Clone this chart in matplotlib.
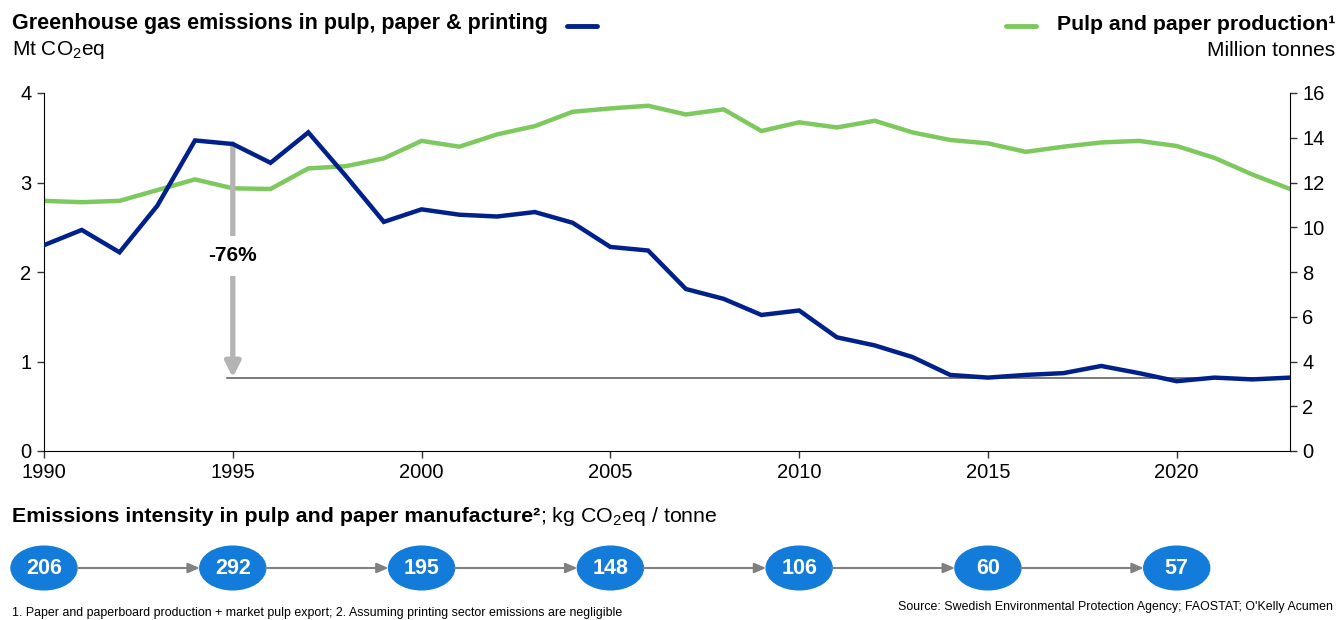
import matplotlib.pyplot as plt
from matplotlib.patches import Ellipse
from matplotlib.lines import Line2D

plt.rcParams["font.family"] = ["Liberation Sans", "DejaVu Sans"]
plt.rcParams["mathtext.fontset"] = "custom"
plt.rcParams["mathtext.rm"] = "Liberation Sans"
plt.rcParams["mathtext.it"] = "Liberation Sans"

years = list(range(1990, 2024))

# Mt CO2eq
emissions = [2.30, 2.47, 2.22, 2.74, 3.47, 3.43, 3.22, 3.56, 3.07, 2.56,
             2.70, 2.64, 2.62, 2.67, 2.55, 2.28, 2.24, 1.81, 1.70, 1.52,
             1.57, 1.27, 1.18, 1.05, 0.85, 0.82, 0.85, 0.87, 0.95, 0.87,
             0.78, 0.82, 0.80, 0.82]

# million tonnes
production = [11.18, 11.12, 11.18, 11.66, 12.14, 11.74, 11.71, 12.63, 12.73, 13.08,
              13.86, 13.60, 14.15, 14.52, 15.16, 15.31, 15.43, 15.04, 15.27, 14.30,
              14.69, 14.46, 14.76, 14.24, 13.90, 13.75, 13.37, 13.60, 13.79, 13.86,
              13.63, 13.10, 12.36, 11.71]

intensity_years = [1990, 1995, 2000, 2005, 2010, 2015, 2020]
intensity = [206, 292, 195, 148, 106, 60, 57]

BLUE = "#00218C"
GREEN = "#7DC95E"
BUBBLE = "#137BD9"

W, H = 1338, 620
fig = plt.figure(figsize=(W / 100, H / 100), dpi=100)

def fx(px):
    return px / W

def fy(py):
    return 1 - py / H

ax = fig.add_axes([fx(44), fy(451), fx(1290) - fx(44), fy(93) - fy(451)])
ax2 = ax.twinx()

ax.plot(years, emissions, color=BLUE, lw=3.2, solid_joinstyle="miter", zorder=3)
ax2.plot(years, production, color=GREEN, lw=3.2, zorder=2)
ax.set_zorder(ax2.get_zorder() + 1)
ax.patch.set_visible(False)

ax.set_xlim(1990, 2023)
ax.set_ylim(0, 4)
ax2.set_ylim(0, 16)
ax.set_xticks(range(1990, 2021, 5))
ax.set_yticks(range(0, 5))
ax2.set_yticks(range(0, 17, 2))

for a in (ax, ax2):
    a.spines["top"].set_visible(False)
    a.tick_params(labelsize=14.5, length=5, width=1, color="#333333", pad=4)
ax.spines["right"].set_visible(False)
ax2.spines["left"].set_visible(False)
ax2.spines["bottom"].set_visible(False)

# -76% drop marker
start, end = emissions[5], emissions[-1]
ax.plot([1994.85, 2023], [end, end], color="#555555", lw=1.1, zorder=1)
ax.annotate("", xy=(1995, end), xytext=(1995, start),
            arrowprops=dict(arrowstyle="-|>,head_width=0.45,head_length=0.9",
                            color="#B4B4B4", lw=3.8, shrinkA=0, shrinkB=0),
            zorder=2)
pct = round((end / start - 1) * 100)
ax.text(1995, 2.18, f"{pct}%", ha="center", va="center", fontsize=15,
        fontweight="bold", zorder=4,
        bbox=dict(boxstyle="square,pad=0.5", fc="white", ec="none"))

# headers and legend keys
fig.text(fx(12), fy(24), "Greenhouse gas emissions in pulp, paper & printing",
         fontsize=15.5, fontweight="bold", va="center")
fig.text(fx(12), fy(50), "Mt CO$_2$eq", fontsize=15, va="center")
fig.add_artist(Line2D([fx(567), fx(597)], [fy(26), fy(26)], color=BLUE, lw=3.5,
                      solid_capstyle="round"))
fig.add_artist(Line2D([fx(1006), fx(1036)], [fy(26), fy(26)], color=GREEN, lw=3.5,
                      solid_capstyle="round"))
fig.text(fx(1335), fy(24), "Pulp and paper production\u00b9", fontsize=15.3,
         fontweight="bold", va="center", ha="right")
fig.text(fx(1335), fy(50), "Million tonnes", fontsize=15, va="center", ha="right")

# intensity strip
t = fig.text(fx(12), fy(517), "Emissions intensity in pulp and paper manufacture\u00b2",
             fontsize=15.4, fontweight="bold", va="center")
fig.canvas.draw()
bb = t.get_window_extent()
fig.text(bb.x1 / W, fy(517), "; kg CO$_2$eq / tonne", fontsize=15.4, va="center")

bx = fig.add_axes([fx(44), fy(596), fx(1290) - fx(44), fy(540) - fy(596)])
bx.set_xlim(1990, 2023)
bx.set_ylim(0, 1)
bx.axis("off")
ew = 66 / 37.75
for i, (yr, val) in enumerate(zip(intensity_years, intensity)):
    bx.add_patch(Ellipse((yr, 0.5), ew, 0.78, color=BUBBLE, zorder=3, clip_on=False))
    bx.text(yr, 0.5, str(val), color="white", fontsize=15.5, fontweight="bold",
            ha="center", va="center", zorder=4)
    if i + 1 < len(intensity_years):
        bx.annotate("", xy=(intensity_years[i + 1] - ew / 2, 0.5),
                    xytext=(yr + ew / 2, 0.5),
                    arrowprops=dict(arrowstyle="-|>,head_width=0.3,head_length=0.7",
                                    color="#808080", lw=1.5, shrinkA=0, shrinkB=0))

fig.text(fx(12), fy(613), "1. Paper and paperboard production + market pulp export; "
         "2. Assuming printing sector emissions are negligible",
         fontsize=8.9, va="center")
fig.text(fx(1333), fy(607), "Source: Swedish Environmental Protection Agency; FAOSTAT; "
         "O'Kelly Acumen", fontsize=8.9, va="center", ha="right")

fig.savefig("out.png", dpi=100)
